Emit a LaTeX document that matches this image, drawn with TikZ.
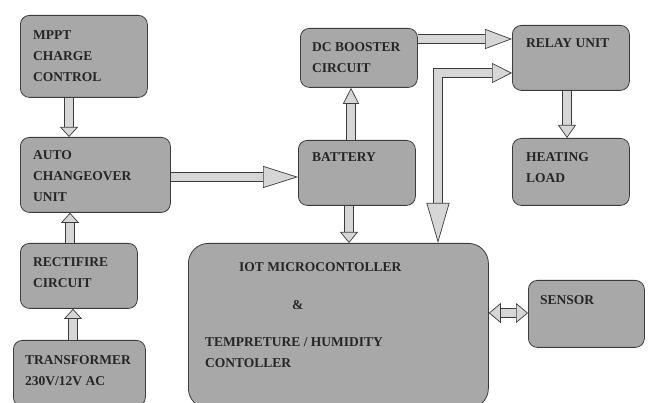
\documentclass[tikz,border=0pt]{standalone}
\usepackage{fontspec}
\setmainfont{Liberation Serif}
\usetikzlibrary{arrows.meta}
\definecolor{boxgray}{RGB}{168,168,168}
\definecolor{arrowgray}{RGB}{214,214,214}
\definecolor{edgegray}{RGB}{60,60,60}
\tikzset{
  blk/.style={draw=edgegray, line width=0.8pt, fill=boxgray, rounded corners=9pt,
    anchor=north west, inner sep=0pt},
  txt/.style={anchor=north west, inner sep=0pt, align=left, text=black!85,
    font=\fontsize{13.5}{21}\selectfont\bfseries},
  shaft/.style={draw=edgegray, line width=0.7pt, double=arrowgray, double distance=8.6pt},
  barrow/.style 2 args={shaft,
    -{Triangle[length=#1, width=#2, fill=arrowgray, line width=0.7pt]}},
  bbarrow/.style 2 args={shaft,
    {Triangle[length=#1, width=#2, fill=arrowgray, line width=0.7pt]}-{Triangle[length=#1, width=#2, fill=arrowgray, line width=0.7pt]}}
}
\begin{document}
\begin{tikzpicture}[x=1pt,y=-1pt]
  \useasboundingbox (0,0) rectangle (651,403);
  % boxes
  \node[blk, minimum width=127pt, minimum height=82pt] (mppt) at (20,15) {};
  \node[blk, minimum width=150pt, minimum height=75pt] (auto) at (20,137) {};
  \node[blk, minimum width=117pt, minimum height=65pt] (rect) at (20,243) {};
  \node[blk, minimum width=132pt, minimum height=66pt] (trans) at (13,340) {};
  \node[blk, minimum width=117pt, minimum height=59pt] (dc) at (300,28) {};
  \node[blk, minimum width=117pt, minimum height=65pt] (bat) at (298,140) {};
  \node[blk, minimum width=117pt, minimum height=65pt] (relay) at (512,25) {};
  \node[blk, minimum width=117pt, minimum height=67pt] (heat) at (512,138) {};
  \node[blk, minimum width=300pt, minimum height=165pt, rounded corners=20pt] (iot) at (188,243) {};
  \node[blk, minimum width=116pt, minimum height=67pt] (sensor) at (528,280) {};
  % texts
  \node[txt] (mpptt) at (33,30) {MPPT\\CHARGE\\CONTROL};
  \node[txt] (autot) at (33,150) {AUTO\\CHANGEOVER\\UNIT};
  \node[txt] (rectt) at (33,257) {RECTIFIRE\\CIRCUIT};
  \node[txt] (transt) at (25,355) {TRANSFORMER\\230V/12V AC};
  \node[txt] (dct) at (312,42) {DC BOOSTER\\CIRCUIT};
  \node[txt] (batt) at (312,152) {BATTERY};
  \node[txt] (relayt) at (526,38) {RELAY UNIT};
  \node[txt] (heatt) at (526,152) {HEATING\\LOAD};
  \node[txt] (sensort) at (540,295) {SENSOR};
  \node[txt] (iott) at (239,262) {IOT MICROCONTOLLER};
  \node[txt] (andt) at (292,300) {\&};
  \node[txt] (tempt) at (205,337) {TEMPRETURE / HUMIDITY\\CONTOLLER};
  % arrows
  \draw[barrow={10pt}{18pt}] ([xshift=49pt]mppt.south west) -- ([xshift=49pt]auto.north west);
  \draw[barrow={10pt}{18pt}] ([xshift=50pt]rect.north west) -- ([xshift=50pt]auto.south west);
  \draw[barrow={10pt}{18pt}] ([xshift=60pt]trans.north west) -- ([xshift=53pt]rect.south west);
  \draw[barrow={35pt}{22pt}] ([yshift=-40pt]auto.north east) -- ([yshift=-37pt]bat.north west);
  \draw[barrow={16pt}{16pt}] ([xshift=53pt]bat.north west) -- ([xshift=51pt]dc.south west);
  \draw[barrow={11pt}{18pt}] ([xshift=51pt]bat.south west) -- ([xshift=161pt]iot.north west);
  \draw[barrow={27pt}{20pt}] ([yshift=-11pt]dc.north east) -- ([yshift=-14pt]relay.north west);
  \draw[barrow={13pt}{18pt}] ([xshift=55pt]relay.south west) -- ([xshift=55pt]heat.north west);
  \draw[shaft, {Triangle[length=40pt, width=23pt, fill=arrowgray, line width=0.7pt]}-{Triangle[length=20pt, width=20pt, fill=arrowgray, line width=0.7pt]}]
    ([xshift=250pt]iot.north west) |- ([yshift=-48pt]relay.north west);
  \draw[bbarrow={12pt}{20pt}] ([yshift=-70pt]iot.north east) -- ([yshift=-33pt]sensor.north west);
\end{tikzpicture}
\end{document}
